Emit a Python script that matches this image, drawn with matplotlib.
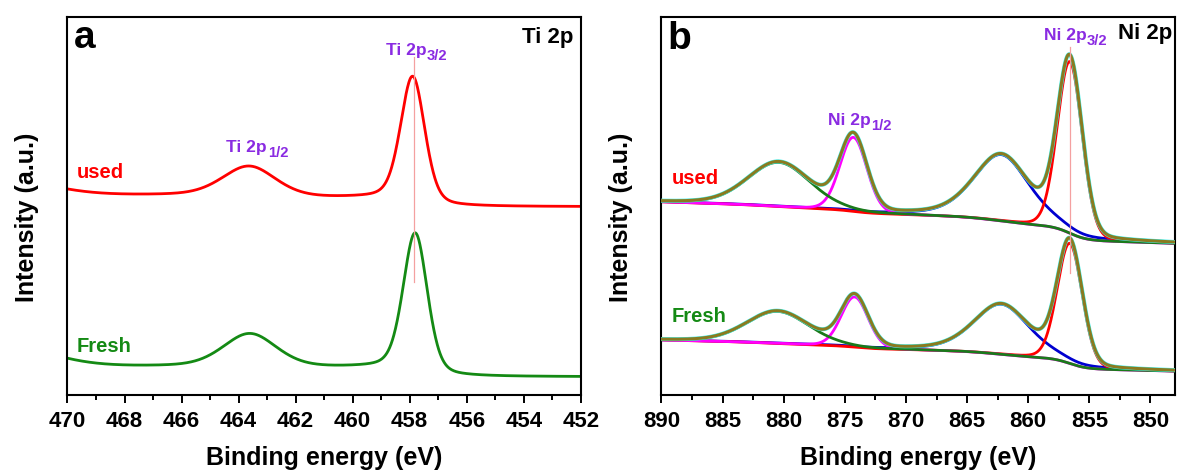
import numpy as np
import matplotlib.pyplot as plt
from matplotlib.ticker import MultipleLocator

plt.rcParams['font.family'] = ['Liberation Sans', 'DejaVu Sans']
plt.rcParams['font.weight'] = 'bold'

# ---------------------------------------------------------------
# Ti 2p fit parameters (intensity in a.u., 0-100)
# order: 2p3/2, 2p1/2, shake-up satellite (just outside the window)
# ---------------------------------------------------------------
ti_used_centres = [457.89, 463.62, 472.5]
ti_fresh_centres = [457.80, 463.60, 472.5]
ti_used_heights = [33.3, 8.0, 4.5]
ti_fresh_heights = [36.8, 8.8, 6.0]
ti_fwhm = [1.0, 2.2, 4.0]
ti_eta = [0.3, 0.3, 0.0]
ti_used_steps = [2.3, 0.8, 0.0]
ti_fresh_steps = [2.4, 0.4, 0.0]
ti_used_base = 49.9
ti_fresh_base = 4.9

# ---------------------------------------------------------------
# Ni 2p fit components: 2p3/2, satellite, 2p1/2, satellite
# ---------------------------------------------------------------
ni_centres = [856.6, 862.2, 874.3, 880.4]
ni_fresh_centres = [856.6, 862.2, 874.2, 880.5]
ni_fwhm = [2.4, 5.4, 2.6, 6.0]
ni_eta = [0.1, 0.4, 0.1, 0.2]
ni_used_heights = [45.4, 17.6, 19.6, 11.7]
ni_fresh_heights = [31.8, 13.3, 13.3, 8.5]
ni_used_steps = [3.53, 1.88, 0.78, 0.61]
ni_fresh_steps = [2.65, 1.40, 0.60, 0.45]
ni_used_base, ni_used_slope = 40.2, 0.10
ni_fresh_base, ni_fresh_slope = 6.4, 0.075
ni_colors = ['#ff0000', '#0000d0', '#ff00ff', '#1a7a1a']


def peak(x, c, h, w, eta):
    g = np.exp(-4 * np.log(2) * ((x - c) / w) ** 2)
    l = 1 / (1 + (2 * (x - c) / w) ** 2)
    return h * ((1 - eta) * g + eta * l)


def shirley(x, base, slope, x0, centres, steps, widths):
    bg = base + slope * (x - x0)
    for c, s, w in zip(centres, steps, widths):
        bg = bg + s / (1 + np.exp(-(x - c) / (w / 3.5)))
    return bg


def ti_curve(x, centres, heights, steps, base):
    y = shirley(x, base, 0, 452, centres, steps, ti_fwhm)
    for c, h, w, e in zip(centres, heights, ti_fwhm, ti_eta):
        y = y + peak(x, c, h, w, e)
    return y


def sub_label(ax, x, y, main, sub, color, size=12.5):
    # "Ti 2p" ends at x, the subscript starts there, a little lower
    ax.annotate(main, (x, y), ha='right', va='baseline', color=color, fontsize=size)
    ax.annotate(sub, (x, y), xytext=(0.5, -3.5), textcoords='offset points',
                ha='left', va='baseline', color=color, fontsize=size * 0.85)


fig = plt.figure(figsize=(11.78, 4.76), dpi=100)
ax1 = fig.add_axes([0.0573, 0.1695, 0.4357, 0.794])
ax2 = fig.add_axes([0.5615, 0.1695, 0.4359, 0.794])

purple = '#8a2be2'
green = '#148a14'

# ---------------- panel a ----------------
x = np.linspace(470, 452, 1500)
ax1.plot(x, ti_curve(x, ti_used_centres, ti_used_heights, ti_used_steps, ti_used_base),
         color='red', lw=2)
ax1.plot(x, ti_curve(x, ti_fresh_centres, ti_fresh_heights, ti_fresh_steps, ti_fresh_base),
         color=green, lw=2)
ax1.plot([457.85, 457.85], [30.0, 89.5], color='#f4a0a0', lw=0.9)

sub_label(ax1, 457.42, 90.0, 'Ti 2p', '3/2', purple)
sub_label(ax1, 463.0, 64.4, 'Ti 2p', '1/2', purple)
ax1.text(0.985, 0.947, 'Ti 2p', transform=ax1.transAxes, fontsize=16, ha='right', va='center')
ax1.text(0.018, 58.9, 'used', transform=ax1.get_yaxis_transform(), color='red',
         fontsize=14.5, ha='left', va='center')
ax1.text(0.018, 13.0, 'Fresh', transform=ax1.get_yaxis_transform(), color=green,
         fontsize=14.5, ha='left', va='center')
ax1.text(0.012, 0.946, 'a', transform=ax1.transAxes, fontsize=28, ha='left', va='center')

ax1.set_xlim(470, 452)
ax1.xaxis.set_major_locator(MultipleLocator(2))
ax1.xaxis.set_minor_locator(MultipleLocator(1))

# ---------------- panel b ----------------
xn = np.linspace(890, 848, 1500)
widths = ni_fwhm
for centres, heights, steps, base, slope, lab, lab_y, lab_c in [
        (ni_centres, ni_used_heights, ni_used_steps, ni_used_base, ni_used_slope,
         'used', 57.5, 'red'),
        (ni_fresh_centres, ni_fresh_heights, ni_fresh_steps, ni_fresh_base, ni_fresh_slope,
         'Fresh', 20.8, green)]:
    bg = shirley(xn, base, slope, 848, centres, steps, widths)
    comps = [peak(xn, c, h, w, e) for c, h, w, e in zip(centres, heights, widths, ni_eta)]
    env = bg + sum(comps)
    zs = [2, 1, 2, 3]
    for comp, col, z in zip(comps, ni_colors, zs):
        ax2.plot(xn, bg + comp, color=col, lw=2, zorder=z)
    ax2.plot(xn, env, color='#3ff0ec', lw=2.9, zorder=4)
    ax2.plot(xn, env, color='#8a7a20', lw=2.2, zorder=5)
    ax2.text(0.02, lab_y, lab, transform=ax2.get_yaxis_transform(), color=lab_c,
             fontsize=14.5, ha='left', va='center')

ax2.plot([856.6, 856.6], [32.4, 92.1], color='#f4a0a0', lw=0.9, zorder=6)
sub_label(ax2, 855.25, 94.0, 'Ni 2p', '3/2', purple)
sub_label(ax2, 872.9, 71.5, 'Ni 2p', '1/2', purple)
ax2.text(0.994, 0.958, 'Ni 2p', transform=ax2.transAxes, fontsize=16, ha='right', va='center')
ax2.text(0.012, 0.943, 'b', transform=ax2.transAxes, fontsize=28, ha='left', va='center')

ax2.set_xlim(890, 848)
ax2.xaxis.set_major_locator(MultipleLocator(5))
ax2.xaxis.set_minor_locator(MultipleLocator(2.5))

for ax in (ax1, ax2):
    ax.set_ylim(0, 100)
    ax.set_yticks([])
    ax.tick_params(axis='x', which='major', direction='out', length=6, width=1.4,
                   labelsize=16, pad=5)
    ax.tick_params(axis='x', which='minor', direction='out', length=3.5, width=1.4)
    for s in ax.spines.values():
        s.set_linewidth(1.5)
    ax.set_xlabel('Binding energy (eV)', fontsize=18, fontweight='bold', va='center')
    ax.set_ylabel('Intensity (a.u.)', fontsize=18, fontweight='bold')
    ax.xaxis.set_label_coords(0.5, -0.166)
    ax.yaxis.set_label_coords(-0.056, 0.47)

fig.savefig('out.png', dpi=100)
